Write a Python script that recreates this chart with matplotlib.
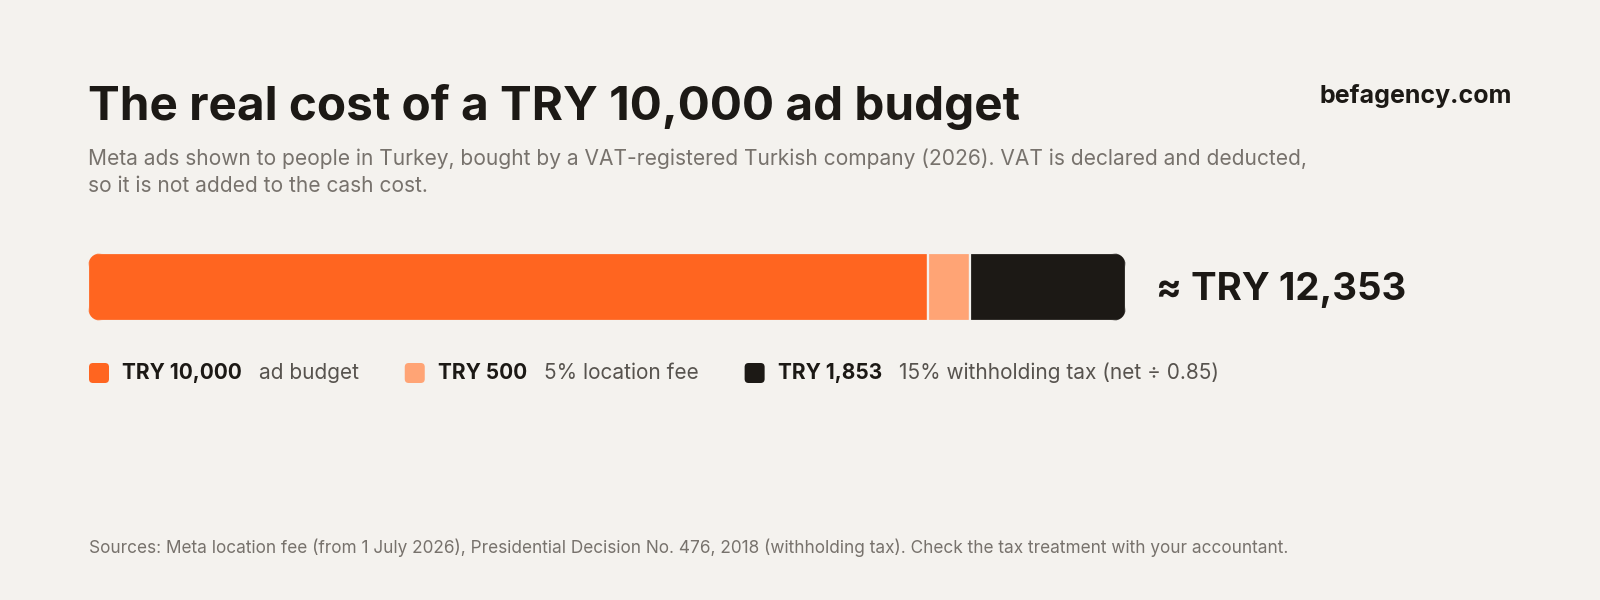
import matplotlib
matplotlib.use("Agg")
import matplotlib.pyplot as plt
from matplotlib.patches import FancyBboxPatch
from matplotlib.transforms import IdentityTransform

# data
labels = ["ad budget", "5% location fee", "15% withholding tax (net \u00f7 0.85)"]
amounts = [10000, 500, 1853]
colors = ["#ff6520", "#ffa475", "#1c1915"]

title = "The real cost of a TRY 10,000 ad budget"
subtitle_lines = ["Meta ads shown to people in Turkey, bought by a VAT-registered Turkish company (2026). "
                  "VAT is declared and deducted,",
                  "so it is not added to the cash cost."]
brand = "befagency.com"
source = ("Sources: Meta location fee (from 1 July 2026), Presidential Decision No. 476, 2018 "
          "(withholding tax). Check the tax treatment with your accountant.")

bg = "#f4f2ee"
ink = "#1c1915"
grey = "#77726c"
W, H = 1600, 600

plt.rcParams['font.family'] = ['Inter', 'DejaVu Sans']

fig = plt.figure(figsize=(16, 6), dpi=100, facecolor=bg)


def fx(x):
    return x / W


def fy(y):
    return 1 - y / H


fig.text(fx(88), fy(120), title, fontsize=34.3, fontweight='bold', color=ink, va='baseline')
fig.text(fx(1512), fy(103), brand, fontsize=18, fontweight='bold', color=ink, ha='right', va='baseline')
for i, line in enumerate(subtitle_lines):
    fig.text(fx(88), fy(165 + 27.5 * i), line, fontsize=15.1, color=grey, va='baseline')
fig.text(fx(89), fy(553), source, fontsize=12.4, color=grey, va='baseline')

# stacked bar
total = sum(amounts)
x0, x1, ytop, ybot = 88, 1126, 253, 321
ax = fig.add_axes([fx(x0), fy(ybot), fx(x1 - x0), (ybot - ytop) / H])
ax.set_xlim(0, total)
ax.set_ylim(-0.5, 0.5)
ax.axis('off')
lefts = [sum(amounts[:i]) for i in range(len(amounts))]
bars = ax.barh(0, amounts, left=lefts, height=1, color=colors, edgecolor=bg, linewidth=1.6)

clip = FancyBboxPatch((x0, H - ybot), x1 - x0, ybot - ytop,
                      boxstyle="round,pad=0,rounding_size=15", transform=IdentityTransform(),
                      facecolor='none', edgecolor='none')
for b in bars:
    b.set_clip_path(clip)

fig.text(fx(1156), fy(290), "\u2248 TRY {:,}".format(total), fontsize=27.6, fontweight='bold',
         color=ink, va='center')

# legend
renderer = fig.canvas.get_renderer()
ly = 373
x = 89
for amt, lab, col in zip(amounts, labels, colors):
    sq = FancyBboxPatch((x, H - ly - 10), 20, 20, boxstyle="round,pad=0,rounding_size=4",
                        transform=IdentityTransform(), facecolor=col, edgecolor='none')
    fig.add_artist(sq)
    x += 20 + 13
    t = fig.text(fx(x), fy(ly), "TRY {:,}".format(amt), fontsize=15, fontweight='bold',
                 color=ink, va='center')
    x += t.get_window_extent(renderer).width + 17
    t = fig.text(fx(x), fy(ly), lab, fontsize=15, color="#57534e", va='center')
    x += t.get_window_extent(renderer).width + 46

fig.savefig("out.png", dpi=100, facecolor=bg)
